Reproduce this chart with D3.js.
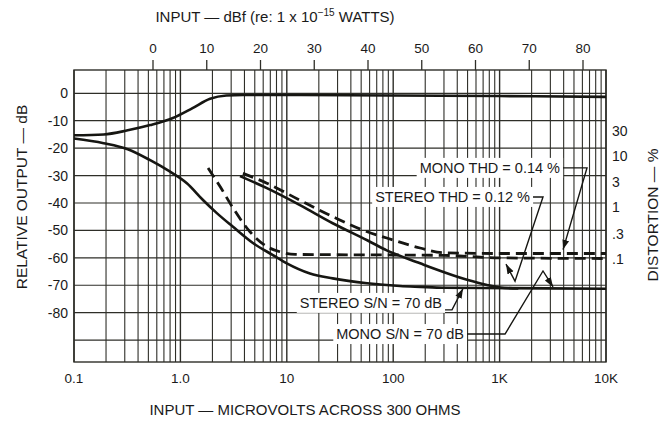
<!DOCTYPE html>
<html><head><meta charset="utf-8">
<script src="https://cdn.jsdelivr.net/npm/d3@7/dist/d3.min.js"></script>
<style>
html,body{margin:0;padding:0;background:#fff;}
svg text{font-family:"Liberation Sans",Arial,sans-serif;fill:#1a1a1a;}
</style></head>
<body><svg id="c" width="660" height="421"></svg>
<script>
// ---- data ----
const xTickValues = [0.1, 1, 10, 100, 1000, 10000];
const xTickLabels = ["0.1", "1.0", "10", "100", "1K", "10K"];
const yTickValues = [0, -10, -20, -30, -40, -50, -60, -70, -80];
const yGridValues = [0, -10, -20, -30, -40, -50, -60, -70, -80, -90];
const topTickValues = [0, 10, 20, 30, 40, 50, 60, 70, 80];
const distTickValues = [30, 10, 3, 1, 0.3, 0.1];
const distTickLabels = ["30", "10", "3", "1", ".3", ".1"];

// relative output (upper solid)
const outputUV = [0.1, 0.19, 0.32, 0.52, 0.85, 1.3, 1.9, 2.7, 3.9, 10, 100, 1000, 10000];
const outputDB = [-15.3, -15, -13.5, -11.6, -9, -5.4, -2, -0.8, -0.6, -0.6, -0.8, -1.0, -1.3];
// mono noise (solid)
const monoNoiseUV = [0.1, 0.19, 0.32, 0.52, 0.8, 1.15, 1.63, 2.2, 3.1, 4.8, 7.4, 10, 16.5, 27, 57, 116, 180, 300, 700, 10000];
const monoNoiseDB = [-16.5, -18.2, -20.4, -24.4, -28.6, -32.8, -38.9, -43.7, -48.6, -54.6, -59, -62, -65.7, -67.5, -69.3, -70.3, -70.6, -70.9, -71, -71.3];
// stereo noise (solid)
const stereoNoiseUV = [3.63, 6.5, 13.3, 27, 57, 87, 179, 237, 494, 762, 1009, 1500];
const stereoNoiseDB = [-30.2, -34.6, -40.8, -47.4, -53.6, -57.3, -62, -63.8, -68, -69.9, -70.8, -71.2];
// stereo THD (dashed, %)
const stereoThdUV = [1.82, 2.36, 3.12, 4.51, 6.51, 8.63, 12, 100, 300, 1000, 10000];
const stereoThdPct = [5.7, 2.5, 0.96, 0.33, 0.17, 0.135, 0.12, 0.117, 0.115, 0.103, 0.1];
// mono THD (dashed, %)
const monoThdUV = [3.87, 6.5, 13.3, 27, 57, 87, 179, 294, 1000, 10000];
const monoThdPct = [4.5, 2.9, 1.35, 0.65, 0.33, 0.25, 0.16, 0.13, 0.125, 0.125];

// annotations: leader polylines in data units (uV, dB); text baseline offset
const annoText = ["MONO THD = 0.14 %", "STEREO THD = 0.12 %", "STEREO S/N = 70 dB", "MONO S/N = 70 dB"];
const annoLeaders = [
  [[3945, -27.2], [6627, -27.2], [3945, -57.0]],
  [[2061, -37.8], [2558, -37.8], [1396, -68.5], [1148, -62.3]],
  [[307, -79.0], [357, -79.0], [453, -71.2]],
  [[494, -87.8], [1125, -87.8], [2558, -64.8], [3178, -70.6]]
];
const annoDy = [5, 5, -2, 5];

// ---- layout ----
const L = 74, R = 606, T = 70, B = 362;
const svg = d3.select("#c");
const x = d3.scaleLog().domain([0.1, 10000]).range([L, R]);
const y = d3.scaleLinear().domain([8.5, -98]).range([T, B]);
const yD = d3.scaleLog().domain([0.1, 10]).range([258.5, 155.5]);
const xTop = d3.scaleLinear().domain([0, 80]).range([153, 583]);

const gridColor = "#2e2e28";
const g = svg.append("g");

// vertical grid
const vLines = [];
[0.1, 1, 10, 100, 1000].forEach(d => { for (let m = 1; m <= 9; m++) vLines.push(d * m); });
vLines.push(10000);
g.selectAll("line.v").data(vLines).join("line")
  .attr("x1", d => x(d)).attr("x2", d => x(d)).attr("y1", T).attr("y2", B)
  .attr("stroke", gridColor).attr("stroke-width", d => (Math.abs(Math.log10(d) - Math.round(Math.log10(d))) < 1e-9) ? 1.4 : 1.1);
// horizontal grid
g.selectAll("line.h").data(yGridValues).join("line")
  .attr("x1", L).attr("x2", R).attr("y1", d => y(d)).attr("y2", d => y(d))
  .attr("stroke", gridColor).attr("stroke-width", 1.2);
// border
g.append("rect").attr("x", L).attr("y", T).attr("width", R - L).attr("height", B - T)
  .attr("fill", "none").attr("stroke", gridColor).attr("stroke-width", 1.4);

// top axis ticks
g.selectAll("line.tt").data(topTickValues).join("line")
  .attr("x1", d => xTop(d)).attr("x2", d => xTop(d)).attr("y1", T - 10).attr("y2", T)
  .attr("stroke", gridColor).attr("stroke-width", 1.3);
g.selectAll("text.tt").data(topTickValues).join("text")
  .attr("x", d => xTop(d)).attr("y", 53).attr("text-anchor", "middle")
  .attr("font-size", 13.5).text(d => d);

// bottom labels
g.selectAll("text.xt").data(xTickValues).join("text")
  .attr("x", d => x(d)).attr("y", 383).attr("text-anchor", "middle")
  .attr("font-size", 13.5).text((d, i) => xTickLabels[i]);

// left labels
g.selectAll("text.yt").data(yTickValues).join("text")
  .attr("x", 68).attr("y", d => y(d) + 5).attr("text-anchor", "end")
  .attr("font-size", 14).text(d => d === 0 ? "0" : "-" + Math.abs(d));

// right labels
g.selectAll("text.dt").data(distTickValues).join("text")
  .attr("x", 612).attr("y", d => yD(d) + 5).attr("text-anchor", "start")
  .attr("font-size", 14).text((d, i) => distTickLabels[i]);

// titles
const tt = svg.append("text").attr("x", 275).attr("y", 22).attr("text-anchor", "middle").attr("font-size", 15);
tt.append("tspan").text("INPUT \u2014 dBf (re: 1 x 10");
tt.append("tspan").attr("dy", -6).attr("font-size", 10).text("\u221215");
tt.append("tspan").attr("dy", 6).text(" WATTS)");
svg.append("text").attr("x", 305).attr("y", 415).attr("text-anchor", "middle").attr("font-size", 15)
  .text("INPUT \u2014 MICROVOLTS ACROSS 300 OHMS");
svg.append("text").attr("transform", "translate(27,197) rotate(-90)").attr("text-anchor", "middle").attr("font-size", 15.5)
  .text("RELATIVE OUTPUT \u2014 dB");
svg.append("text").attr("transform", "translate(658,215) rotate(-90)").attr("text-anchor", "middle").attr("font-size", 15.5)
  .text("DISTORTION \u2014 %");

// curves
const lineDB = d3.line().x(d => x(d[0])).y(d => y(d[1])).curve(d3.curveMonotoneX);
const linePct = d3.line().x(d => x(d[0])).y(d => yD(d[1])).curve(d3.curveMonotoneX);
const zip = (a, b) => a.map((v, i) => [v, b[i]]);
const curveColor = "#161612";
svg.append("path").attr("d", lineDB(zip(outputUV, outputDB))).attr("fill", "none").attr("stroke", curveColor).attr("stroke-width", 2.6);
svg.append("path").attr("d", lineDB(zip(monoNoiseUV, monoNoiseDB))).attr("fill", "none").attr("stroke", curveColor).attr("stroke-width", 2.6);
svg.append("path").attr("d", lineDB(zip(stereoNoiseUV, stereoNoiseDB))).attr("fill", "none").attr("stroke", curveColor).attr("stroke-width", 2.6);
svg.append("path").attr("d", linePct(zip(stereoThdUV, stereoThdPct))).attr("fill", "none").attr("stroke", curveColor).attr("stroke-width", 2.8).attr("stroke-dasharray", "11,6");
svg.append("path").attr("d", linePct(zip(monoThdUV, monoThdPct))).attr("fill", "none").attr("stroke", curveColor).attr("stroke-width", 2.8).attr("stroke-dasharray", "11,6");

// annotations
svg.append("defs").append("marker").attr("id", "arr").attr("viewBox", "0 0 10 10").attr("refX", 10).attr("refY", 5)
  .attr("markerWidth", 7).attr("markerHeight", 7).attr("orient", "auto-start-reverse")
  .append("path").attr("d", "M0,1.5 L10,5 L0,8.5 Z").attr("fill", curveColor);
const lineA = d3.line().x(d => x(d[0])).y(d => y(d[1]));
annoText.forEach((t, i) => {
  const p0 = annoLeaders[i][0];
  const tx = x(p0[0]) - 3, ty = y(p0[1]);
  const txt = svg.append("text").attr("x", tx).attr("y", ty + annoDy[i]).attr("text-anchor", "end").attr("font-size", 14.5).text(t);
  const bb = txt.node().getBBox();
  svg.insert("rect", () => txt.node()).attr("x", bb.x - 3).attr("y", bb.y - 2).attr("width", bb.width + 6).attr("height", bb.height + 4).attr("fill", "#fff");
  svg.append("path").attr("d", lineA(annoLeaders[i])).attr("fill", "none").attr("stroke", curveColor).attr("stroke-width", 1.4).attr("marker-end", "url(#arr)");
});
</script></body></html>
